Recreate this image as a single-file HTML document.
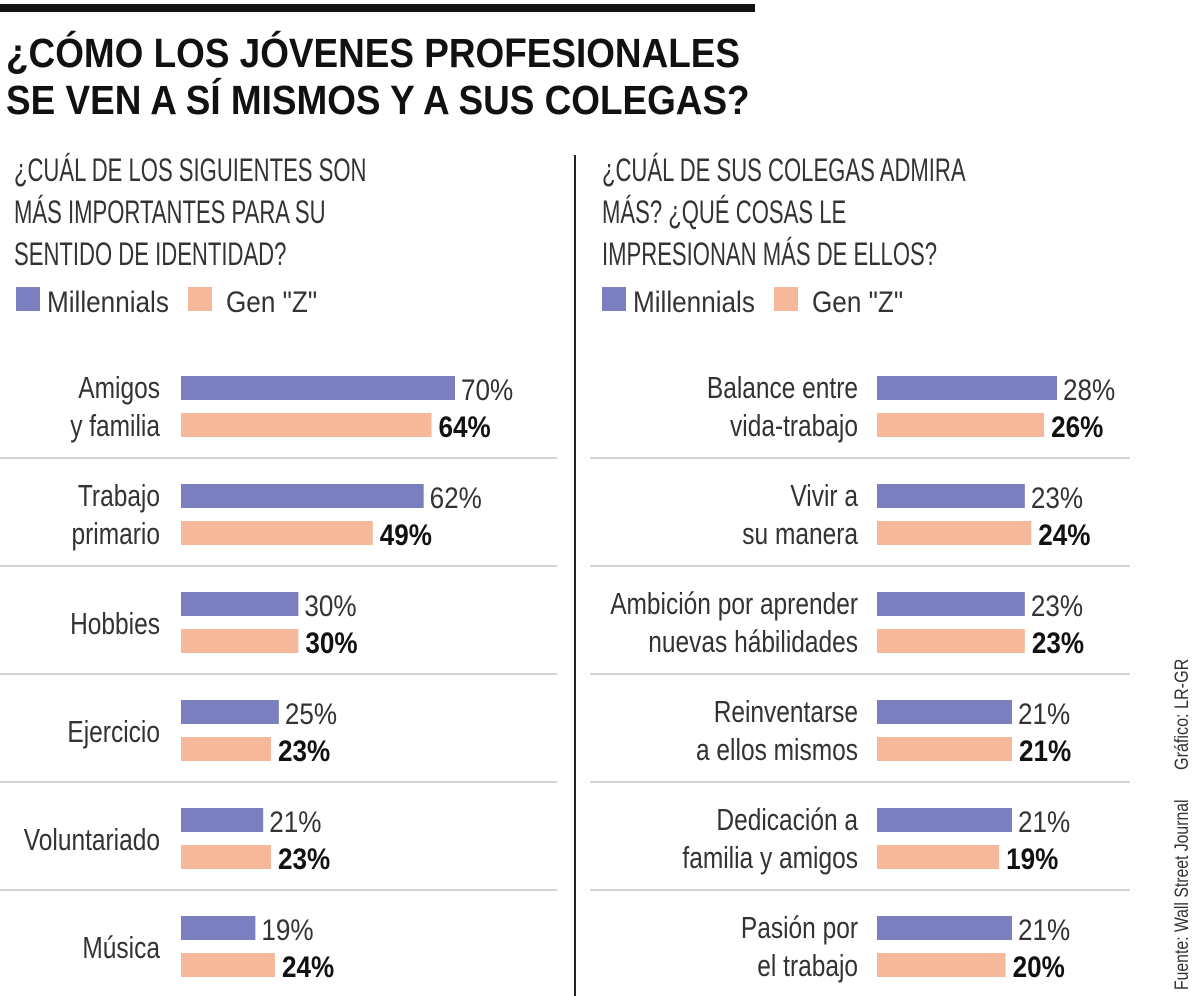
<!DOCTYPE html>
<html><head><meta charset="utf-8">
<style>
body{margin:0;background:#fff;}
svg{display:block;font-family:"Liberation Sans Narrow","Liberation Sans",sans-serif;}
</style></head>
<body>
<svg id="c" width="1200" height="996" viewBox="0 0 1200 996" xmlns="http://www.w3.org/2000/svg">
<rect x="0" y="4" width="755" height="8" fill="#111"/>
<g font-weight="bold" font-size="41" fill="#111">
<text class="f90t" x="6" y="67">¿CÓMO LOS JÓVENES PROFESIONALES</text>
<text class="f90t" x="6" y="114">SE VEN A SÍ MISMOS Y A SUS COLEGAS?</text>
</g>
<line x1="575" y1="155" x2="575" y2="996" stroke="#222" stroke-width="2"/>
<g font-size="32" fill="#333">
<text class="f69" x="14" y="181">¿CUÁL DE LOS SIGUIENTES SON</text>
<text class="f69" x="14" y="223">MÁS IMPORTANTES PARA SU</text>
<text class="f69" x="14" y="265">SENTIDO DE IDENTIDAD?</text>
</g>
<g font-size="32" fill="#333">
<text class="f69" x="602" y="181">¿CUÁL DE SUS COLEGAS ADMIRA</text>
<text class="f69" x="602" y="223">MÁS? ¿QUÉ COSAS LE</text>
<text class="f69" x="602" y="265">IMPRESIONAN MÁS DE ELLOS?</text>
</g>
<g font-size="30" fill="#333">
<rect x="16" y="287" width="24" height="24" fill="#7b7fbf"/>
<text class="f87" x="47" y="312">Millennials</text>
<rect x="188" y="287" width="24" height="24" fill="#f5b89a"/>
<text class="f87" x="226" y="312">Gen "Z"</text>
</g>
<g font-size="30" fill="#333">
<rect x="602" y="287" width="24" height="24" fill="#7b7fbf"/>
<text class="f87" x="633" y="312">Millennials</text>
<rect x="774" y="287" width="24" height="24" fill="#f5b89a"/>
<text class="f87" x="812" y="312">Gen "Z"</text>
</g>
<text class="f83" transform="translate(1188,990) rotate(-90)" font-size="19" fill="#333">Fuente: Wall Street Journal</text>
<text class="f85" transform="translate(1188,770) rotate(-90)" font-size="19" fill="#333">Gráfico: LR-GR</text>
<g id="left"></g><g id="right"></g>
</svg>
<script>
const leftCats=[["Amigos","y familia"],["Trabajo","primario"],["Hobbies"],["Ejercicio"],["Voluntariado"],["Música"]];
const leftMil=[70,62,30,25,21,19];
const leftGenZ=[64,49,30,23,23,24];
const rightCats=[["Balance entre","vida-trabajo"],["Vivir a","su manera"],["Ambición por aprender","nuevas hábilidades"],["Reinventarse","a ellos mismos"],["Dedicación a","familia y amigos"],["Pasión por","el trabajo"]];
const rightMil=[28,23,23,21,21,21];
const rightGenZ=[26,24,23,21,19,20];
const NS="http://www.w3.org/2000/svg";
function mk(t,a,p){const e=document.createElementNS(NS,t);for(const k in a)e.setAttribute(k,a[k]);p.appendChild(e);return e;}
function draw(gid,cats,mil,gz,x0,scale,labelX,sepX1,sepX2){
  const g=document.getElementById(gid);
  const xs=v=>v*scale;
  cats.forEach((c,i)=>{
    const y=376+i*108;
    const b1=mk('rect',{x:x0,y:y,width:xs(mil[i]),height:24,fill:'#7b7fbf'},g);
    
    
    const b2=mk('rect',{x:x0,y:y+37,width:xs(gz[i]),height:24,fill:'#f5b89a'},g);
    
    
    const t1=mk('text',{x:x0+xs(mil[i])+6,y:y+24,'font-size':30,fill:'#333','class':'f87'},g);
    t1.textContent=mil[i]+'%';
    
    
    const t2=mk('text',{x:x0+xs(gz[i])+7,y:y+61,'font-size':30,'font-weight':'bold',fill:'#111','class':'f87'},g);
    t2.textContent=gz[i]+'%';
    
    
    const lines=c.length;
    c.forEach((s,j)=>{
      const ly=lines===2?y+22+j*38:y+42;
      const l=mk('text',{x:labelX,y:ly,'font-size':31,fill:'#333','text-anchor':'end','class':'f79'},g);
      l.textContent=s;
      
      
    });
    if(i<cats.length-1){
      const s=mk('line',{x1:sepX1,x2:sepX2,y1:y+82,y2:y+82,stroke:'#aaa','stroke-width':1},g);
      
      
    }
  });
}
draw('left',leftCats,leftMil,leftGenZ,181,274/70,160,0,557);
draw('right',rightCats,rightMil,rightGenZ,877,180/28,858,590,1130);
const factors={f90t:0.9,f69:0.69,f87:0.87,f79:0.79,f83:0.83,f85:0.85};
document.querySelectorAll('text').forEach(t=>{
  const f=factors[t.getAttribute('class')];
  if(f){t.setAttribute('textLength',(t.getComputedTextLength()*f).toFixed(1));t.setAttribute('lengthAdjust','spacingAndGlyphs');}
});
</script>
</body></html>
